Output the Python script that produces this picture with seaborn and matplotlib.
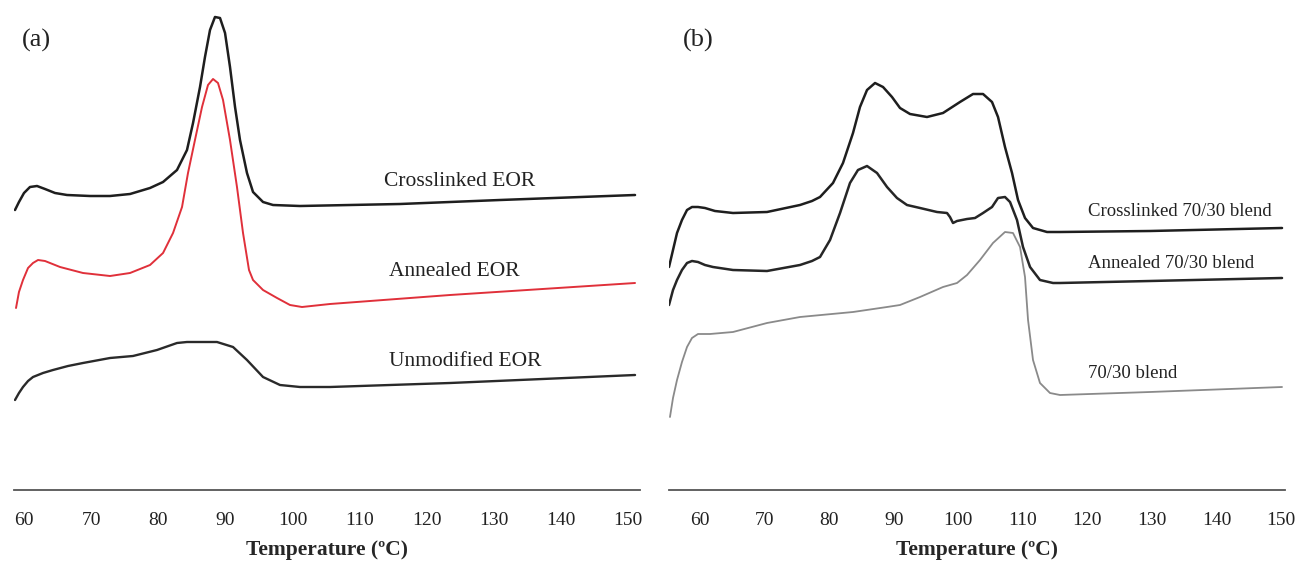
import matplotlib
matplotlib.use("Agg")
import matplotlib.pyplot as plt
import seaborn as sns
import pandas as pd

# Panel (a): EOR DSC traces (heat flow in arbitrary units, curves offset)
t_cross_eor = [58.66, 59.25, 60.00, 60.89, 61.94, 63.13, 64.62, 66.41, 69.84, 72.82, 75.80, 78.78,
               80.72, 82.80, 84.29, 85.19, 86.23, 86.97, 87.72, 88.46, 89.21, 89.96, 90.70, 91.45,
               92.19, 93.23, 94.13, 95.62, 97.11, 101.13, 116.04, 130.94, 151.06]
hf_cross_eor = [2.80, 2.88, 2.97, 3.03, 3.04, 3.01, 2.97, 2.95, 2.94, 2.94, 2.96, 3.02,
                3.08, 3.20, 3.40, 3.67, 4.03, 4.33, 4.60, 4.73, 4.72, 4.57, 4.23, 3.83,
                3.50, 3.17, 2.98, 2.88, 2.85, 2.84, 2.86, 2.90, 2.95]

t_ann_eor = [58.81, 59.25, 59.85, 60.60, 61.34, 62.09, 63.13, 65.37, 68.79, 72.82, 75.80, 78.78,
             80.72, 82.21, 83.55, 84.44, 85.48, 86.53, 87.42, 88.17, 88.91, 89.66, 90.70, 91.74,
             92.64, 93.53, 94.13, 95.62, 97.71, 99.64, 101.43, 105.60, 123.49, 151.06]
hf_ann_eor = [1.82, 1.98, 2.10, 2.22, 2.27, 2.30, 2.29, 2.23, 2.17, 2.14, 2.17, 2.25,
              2.37, 2.57, 2.83, 3.17, 3.50, 3.83, 4.05, 4.11, 4.07, 3.90, 3.50, 3.03,
              2.57, 2.20, 2.10, 2.00, 1.92, 1.85, 1.83, 1.86, 1.95, 2.07]

t_unmod_eor = [58.66, 59.25, 59.85, 60.60, 61.34, 62.83, 64.32, 66.56, 68.79, 72.82, 76.24, 79.82,
               82.80, 84.29, 88.76, 91.15, 93.23, 95.62, 98.15, 101.13, 105.60, 123.49, 151.06]
hf_unmod_eor = [0.90, 0.97, 1.03, 1.09, 1.13, 1.17, 1.20, 1.24, 1.27, 1.32, 1.34, 1.40,
                1.47, 1.48, 1.48, 1.43, 1.30, 1.13, 1.05, 1.03, 1.03, 1.07, 1.15]

# Panel (b): 70/30 blend DSC traces
t_cross_blend = [55.20, 55.82, 56.44, 57.21, 57.99, 58.76, 59.69, 60.77, 62.32, 65.11, 70.38, 75.49,
                 77.35, 78.59, 80.60, 82.15, 83.70, 84.78, 85.87, 87.11, 88.35, 89.74, 90.98, 92.53,
                 95.16, 97.64, 100.27, 102.29, 103.84, 105.23, 106.16, 107.24, 108.33, 109.26,
                 110.34, 111.58, 113.75, 115.76, 129.70, 150.15]
hf_cross_blend = [2.23, 2.40, 2.57, 2.70, 2.80, 2.83, 2.83, 2.82, 2.79, 2.77, 2.78, 2.85,
                  2.89, 2.93, 3.07, 3.27, 3.57, 3.83, 4.00, 4.07, 4.03, 3.93, 3.82, 3.76,
                  3.73, 3.77, 3.88, 3.96, 3.96, 3.88, 3.73, 3.43, 3.17, 2.90,
                  2.72, 2.62, 2.58, 2.58, 2.59, 2.62]

t_ann_blend = [55.20, 55.82, 56.44, 57.21, 57.99, 58.76, 59.69, 60.77, 62.01, 65.11, 70.38, 75.49,
               77.35, 78.59, 80.14, 81.69, 83.23, 84.47, 85.87, 87.42, 88.97, 90.51, 92.06, 94.08,
               96.71, 98.26, 98.72, 99.19, 99.81, 101.36, 102.60, 103.84, 105.23, 106.16, 107.24,
               108.02, 109.10, 110.03, 111.12, 112.66, 114.68, 115.76, 129.70, 150.15]
hf_ann_blend = [1.85, 2.00, 2.10, 2.20, 2.27, 2.29, 2.28, 2.25, 2.23, 2.20, 2.19, 2.25,
                2.29, 2.33, 2.50, 2.77, 3.07, 3.20, 3.24, 3.17, 3.03, 2.92, 2.85, 2.82,
                2.78, 2.77, 2.73, 2.67, 2.69, 2.71, 2.72, 2.77, 2.83, 2.92, 2.93,
                2.88, 2.70, 2.43, 2.23, 2.10, 2.07, 2.07, 2.09, 2.12]

t_blend = [55.35, 55.82, 56.44, 57.21, 57.99, 58.76, 59.69, 61.55, 65.11, 70.38, 75.49, 83.70,
           88.97, 90.98, 94.08, 97.64, 99.81, 101.36, 103.37, 105.38, 107.24, 108.48, 109.57,
           110.34, 110.81, 111.58, 112.66, 114.21, 115.76, 129.70, 150.15]
hf_blend = [0.73, 0.92, 1.10, 1.28, 1.43, 1.52, 1.56, 1.56, 1.58, 1.67, 1.73, 1.78,
            1.83, 1.85, 1.93, 2.03, 2.07, 2.15, 2.30, 2.47, 2.58, 2.57, 2.43,
            2.13, 1.70, 1.30, 1.07, 0.97, 0.95, 0.98, 1.03]

ticks = [60, 70, 80, 90, 100, 110, 120, 130, 140, 150]

# name, temperatures, heat flow, colour, line width, label position
panel_a = [("Crosslinked EOR", t_cross_eor, hf_cross_eor, "#1e1e1e", 1.8, (124.98, 3.09)),
           ("Annealed EOR", t_ann_eor, hf_ann_eor, "#e0303a", 1.4, (124.2, 2.18)),
           ("Unmodified EOR", t_unmod_eor, hf_unmod_eor, "#2a2a2a", 1.7, (125.7, 1.28))]
panel_b = [("Crosslinked 70/30 blend", t_cross_blend, hf_cross_blend, "#1e1e1e", 1.8, (120.1, 2.79)),
           ("Annealed 70/30 blend", t_ann_blend, hf_ann_blend, "#262626", 1.8, (120.1, 2.27)),
           ("70/30 blend", t_blend, hf_blend, "#8a8a8a", 1.3, (120.1, 1.17))]

sns.set_style("white")
plt.rcParams['font.family'] = ['Liberation Serif', 'DejaVu Serif']

fig = plt.figure(figsize=(12.95, 5.62), dpi=100)
ax_a = fig.add_axes([14 / 1295, 72 / 562, 626 / 1295, 490 / 562])
ax_b = fig.add_axes([669 / 1295, 72 / 562, 616 / 1295, 490 / 562])


def draw_panel(ax, curves, xlim, label_size, ha):
    for name, t, hf, color, lw, pos in curves:
        df = pd.DataFrame({'T': t, 'hf': hf})
        sns.lineplot(data=df, x='T', y='hf', ax=ax, color=color, lw=lw,
                     estimator=None, sort=False,
                     solid_joinstyle='round', solid_capstyle='round')
        ax.text(pos[0], pos[1], name, fontsize=label_size, ha=ha, va='center', color='#222222')
    ax.set_xlim(*xlim)
    ax.set_ylim(0, 4.9)
    ax.set_xticks(ticks)
    ax.set_yticks([])
    ax.set_ylabel('')
    ax.set_xlabel('Temperature (ºC)', fontsize=15.5, fontweight='bold', labelpad=8)
    for s in ['top', 'right', 'left']:
        ax.spines[s].set_visible(False)
    ax.spines['bottom'].set_color('#555555')
    ax.spines['bottom'].set_linewidth(1.3)
    ax.tick_params(axis='x', direction='inout', length=7, width=1.2, color='#555555',
                   labelsize=14, pad=12, labelcolor='#222222')


draw_panel(ax_a, panel_a, (58.51, 151.8), 15.5, 'center')
draw_panel(ax_b, panel_b, (55.20, 150.61), 13.5, 'left')

fig.text(22 / 1295, 1 - 40 / 562, '(a)', fontsize=19, va='center', ha='left', color='#222222')
fig.text(683 / 1295, 1 - 40 / 562, '(b)', fontsize=19, va='center', ha='left', color='#222222')

fig.savefig('out.png', dpi=100)
